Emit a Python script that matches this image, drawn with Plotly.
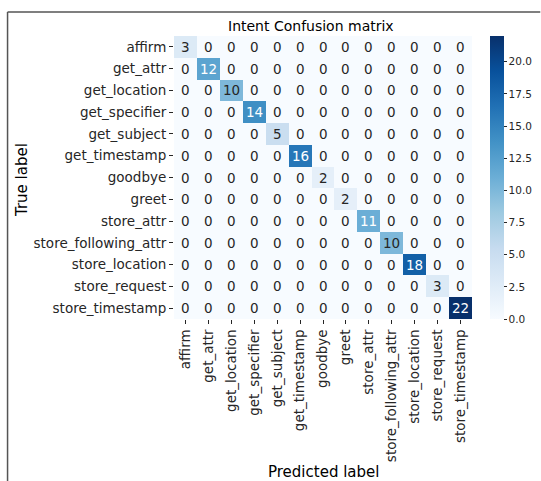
import plotly.graph_objects as go
import plotly.express as px

labels = ["affirm", "get_attr", "get_location", "get_specifier", "get_subject",
          "get_timestamp", "goodbye", "greet", "store_attr", "store_following_attr",
          "store_location", "store_request", "store_timestamp"]
diag_counts = [3, 12, 10, 14, 5, 16, 2, 2, 11, 10, 18, 3, 22]
cbar_ticks = [0.0, 2.5, 5.0, 7.5, 10.0, 12.5, 15.0, 17.5, 20.0]

n = len(labels)
matrix = [[diag_counts[i] if i == j else 0 for j in range(n)] for i in range(n)]

W, H = 541, 481
L, R, T, B = 173.5, 472.5, 36, 319
pw, ph = R - L, B - T

def px_x(x):
    return (x - L) / pw

def px_y(y):
    return (B - y) / ph

FONT = "DejaVu Sans"
TXT = "#262626"
vmax = max(diag_counts)

fig = go.Figure()
fig.add_trace(go.Heatmap(
    z=matrix, x=labels, y=labels,
    colorscale=px.colors.sequential.Blues,
    zmin=0, zmax=vmax,
    xgap=0, ygap=0,
    hoverinfo="skip",
    colorbar=dict(
        x=px_x(491), xanchor="left", y=0.5, yanchor="middle",
        len=1.0, lenmode="fraction", thickness=14, outlinewidth=0,
        xpad=0, ypad=0,
        tickvals=cbar_ticks, ticktext=[f"{v:.1f}" for v in cbar_ticks],
        ticks="outside", ticklen=3, tickcolor=TXT,
        tickfont=dict(family=FONT, size=10.5, color=TXT),
    ),
))

annotations = []
for i in range(n):
    for j in range(n):
        v = matrix[i][j]
        color = "white" if v / vmax > 0.47 else TXT
        annotations.append(dict(
            x=labels[j], y=labels[i], text=str(v), showarrow=False,
            xref="x", yref="y", font=dict(family=FONT, size=13.5, color=color)))

annotations += [
    dict(x=px_x(311), y=px_y(26), xref="paper", yref="paper", text="Intent Confusion matrix",
         showarrow=False, xanchor="center", yanchor="middle",
         font=dict(family=FONT, size=14, color="black")),
    dict(x=px_x(324), y=px_y(472), xref="paper", yref="paper", text="Predicted label",
         showarrow=False, xanchor="center", yanchor="middle",
         font=dict(family=FONT, size=15, color="black")),
    dict(x=px_x(21), y=px_y(180), xref="paper", yref="paper", text="True label",
         showarrow=False, xanchor="center", yanchor="middle", textangle=-90,
         font=dict(family=FONT, size=15, color="black")),
]

frame = dict(color="#555555", width=1.5)
shapes = [
    dict(type="line", xref="paper", yref="paper", x0=px_x(6.5), x1=px_x(6.5),
         y0=px_y(12), y1=px_y(481), line=frame),
    dict(type="line", xref="paper", yref="paper", x0=px_x(6.5), x1=px_x(541),
         y0=px_y(12), y1=px_y(12), line=frame),
]

fig.update_layout(
    width=W, height=H,
    margin=dict(l=L, r=W - R, t=T, b=H - B, pad=0, autoexpand=False),
    paper_bgcolor="white", plot_bgcolor="white",
    font=dict(family=FONT, color=TXT),
    annotations=annotations, shapes=shapes,
    showlegend=False,
)
fig.update_xaxes(
    tickangle=-90, ticks="outside", ticklen=4, tickcolor=TXT,
    tickfont=dict(family=FONT, size=13.5, color=TXT),
    showgrid=False, zeroline=False, showline=False, automargin=False,
)
fig.update_yaxes(
    autorange="reversed", ticks="outside", ticklen=4, tickcolor=TXT,
    tickfont=dict(family=FONT, size=13.5, color=TXT),
    showgrid=False, zeroline=False, showline=False, automargin=False,
)

fig.write_html("out.html")
